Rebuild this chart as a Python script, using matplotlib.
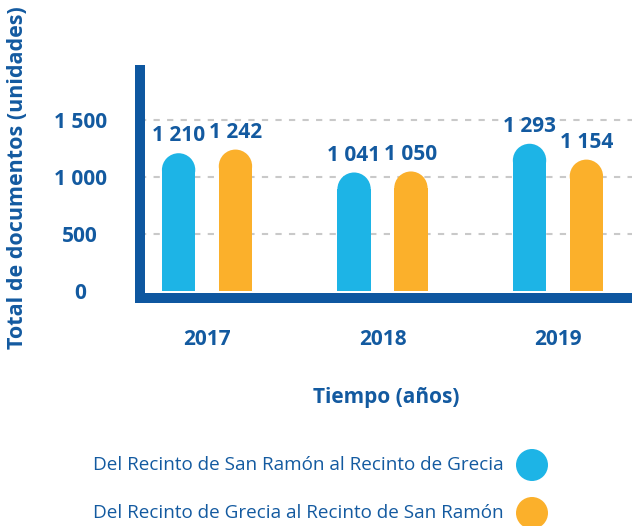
import matplotlib
matplotlib.use("Agg")
import matplotlib.pyplot as plt
from matplotlib.patches import Rectangle, Ellipse
import numpy as np

# Data
years = ["2017", "2018", "2019"]
sr_to_grecia = [1210, 1041, 1293]
grecia_to_sr = [1242, 1050, 1154]
series_labels = ["Del Recinto de San Ramón al Recinto de Grecia",
                 "Del Recinto de Grecia al Recinto de San Ramón"]
yticks = [0, 500, 1000, 1500]
ytick_labels = ["0", "500", "1 000", "1 500"]

BLUE = "#1DB4E6"
ORANGE = "#FBB02B"
NAVY = "#0E57A0"
TEXT = "#135AA0"

plt.rcParams["font.family"] = ["Open Sans", "DejaVu Sans"]

W, H = 632, 526
fig = plt.figure(figsize=(W / 100, H / 100), dpi=100)
# axes box in pixels: left 140, right 632, bottom 298, top 70
ax = fig.add_axes([140 / W, 1 - 298 / H, (632 - 140) / W, (298 - 70) / H])
ax.set_xlim(-0.382, 2.422)
ax.set_ylim(-60, 1940)

x = np.arange(len(years))
w = 0.19
off = 0.162

# radius of rounded top, converted to y data units
p0 = ax.transData.transform((0, 0))
p1 = ax.transData.transform((1, 1))
px_x = p1[0] - p0[0]
px_y = p1[1] - p0[1]
ry = (w * px_x / 2) / px_y

def rounded_bar(xc, v, color):
    ax.add_patch(Rectangle((xc - w / 2, 0), w, v - ry, facecolor=color,
                           edgecolor="none", zorder=2))
    ax.add_patch(Ellipse((xc, v - ry), w, 2 * ry, facecolor=color,
                         edgecolor="none", zorder=2))

for i in range(len(years)):
    for xc, v, c in [(x[i] - off, sr_to_grecia[i], BLUE),
                     (x[i] + off, grecia_to_sr[i], ORANGE)]:
        rounded_bar(xc, v, c)
        ax.annotate(f"{v:,}".replace(",", " "), (xc, v), xytext=(0, 5),
                    textcoords="offset points", ha="center", va="bottom",
                    fontsize=15, fontweight="bold", color=TEXT)

# grid
for yv in yticks[1:]:
    ax.axhline(yv, color="#C9C9C9", lw=1.5, ls=(0, (3, 3.5)), zorder=1)

# axes styling
for s in ["top", "right"]:
    ax.spines[s].set_visible(False)
for s in ["left", "bottom"]:
    ax.spines[s].set_linewidth(7.2)
    ax.spines[s].set_color(NAVY)
    ax.spines[s].set_capstyle("projecting")

ax.set_yticks(yticks)
ax.set_yticklabels(ytick_labels, fontsize=15, fontweight="bold", color=TEXT,
                   ha="center")
ax.tick_params(axis="y", length=0, pad=43)
ax.set_xticks(x)
ax.set_xticklabels(years, fontsize=15, fontweight="bold", color=TEXT)
ax.tick_params(axis="x", length=0, pad=22)

fig.text(386 / W, 1 - 398 / H, "Tiempo (años)", ha="center", va="center",
         fontsize=15, fontweight="bold", color=TEXT)
fig.text(18 / W, 1 - 178 / H, "Total de documentos (unidades)", ha="center",
         va="center", rotation=90, fontsize=15.5, fontweight="bold", color=TEXT)

# legend
for lab, c, yp in [(series_labels[0], BLUE, 465), (series_labels[1], ORANGE, 513)]:
    fig.text(93 / W, 1 - yp / H, lab, ha="left", va="center", fontsize=13.6,
             color=TEXT)
    fig.add_artist(Ellipse((532 / W, 1 - yp / H), 32 / W, 32 / H,
                           transform=fig.transFigure, facecolor=c,
                           edgecolor="none"))

fig.savefig("out.png", dpi=100)
